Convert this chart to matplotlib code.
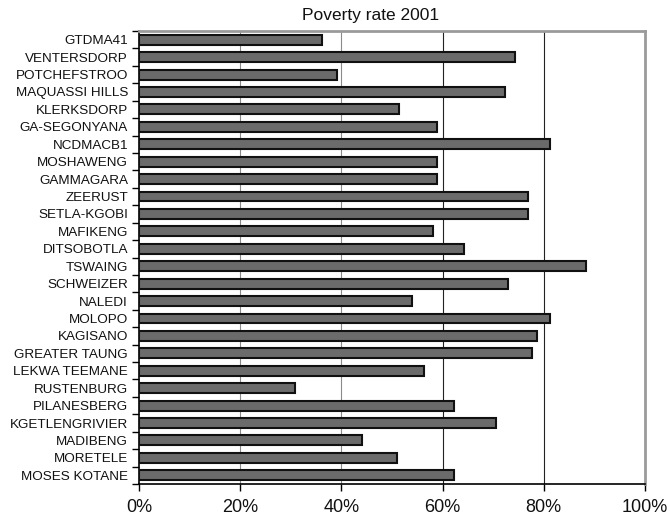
import matplotlib
matplotlib.use("Agg")
import matplotlib.pyplot as plt
from matplotlib.ticker import FixedLocator, PercentFormatter

municipalities = [
    "GTDMA41", "VENTERSDORP", "POTCHEFSTROO", "MAQUASSI HILLS", "KLERKSDORP",
    "GA-SEGONYANA", "NCDMACB1", "MOSHAWENG", "GAMMAGARA", "ZEERUST",
    "SETLA-KGOBI", "MAFIKENG", "DITSOBOTLA", "TSWAING", "SCHWEIZER",
    "NALEDI", "MOLOPO", "KAGISANO", "GREATER TAUNG", "LEKWA TEEMANE",
    "RUSTENBURG", "PILANESBERG", "KGETLENGRIVIER", "MADIBENG", "MORETELE",
    "MOSES KOTANE",
]
poverty_rate = [
    36.1, 74.3, 39.2, 72.3, 51.3,
    58.8, 81.3, 58.8, 58.8, 76.8,
    76.8, 58.2, 64.3, 88.4, 72.9,
    54.0, 81.3, 78.7, 77.7, 56.4,
    30.9, 62.2, 70.5, 44.1, 50.9,
    62.2,
]
x_ticks = [0, 20, 40, 60, 80, 100]

plt.rcParams["font.family"] = ["Liberation Sans", "DejaVu Sans"]

W, H = 670, 519
fig = plt.figure(figsize=(W / 100, H / 100), dpi=100)
ax = fig.add_axes([139 / W, 1 - 484 / H, (645 - 139) / W, (484 - 31) / H])

n = len(municipalities)
ypos = list(range(n))
ax.barh(ypos, poverty_rate, height=0.57, color="#6b6b6b",
        edgecolor="#111111", linewidth=1.5, zorder=3)

ax.set_xlim(0, 100)
ax.set_ylim(n - 0.5, -0.5)

# vertical gridlines
for v, c in zip([20, 40, 60, 80], ["#8a8a8a", "#8a8a8a", "#222222", "#222222"]):
    ax.axvline(v, color=c, linewidth=0.8, zorder=1)

ax.xaxis.set_major_locator(FixedLocator(x_ticks))
ax.xaxis.set_major_formatter(PercentFormatter(decimals=0))
ax.tick_params(axis="x", direction="out", length=5, width=1, color="black",
               labelsize=13, pad=6, labelcolor="#111111")

# category labels centred on bars, tick marks at category boundaries
ax.set_yticks(ypos)
ax.set_yticklabels(municipalities, fontsize=9.7, color="#111111")
ax.tick_params(axis="y", which="major", length=0, pad=8)
ax.set_yticks([i - 0.5 for i in range(n + 1)], minor=True)
ax.tick_params(axis="y", which="minor", direction="out", length=5, width=1,
               color="black")

for side in ("top", "right"):
    ax.spines[side].set_color("#9a9a9a")
    ax.spines[side].set_linewidth(2)
for side in ("left", "bottom"):
    ax.spines[side].set_color("black")
    ax.spines[side].set_linewidth(1.2)

fig.text(371 / W, 1 - 20 / H, "Poverty rate 2001", ha="center", va="baseline",
         fontsize=12.5, color="#111111")

fig.savefig("out.png", dpi=100)
